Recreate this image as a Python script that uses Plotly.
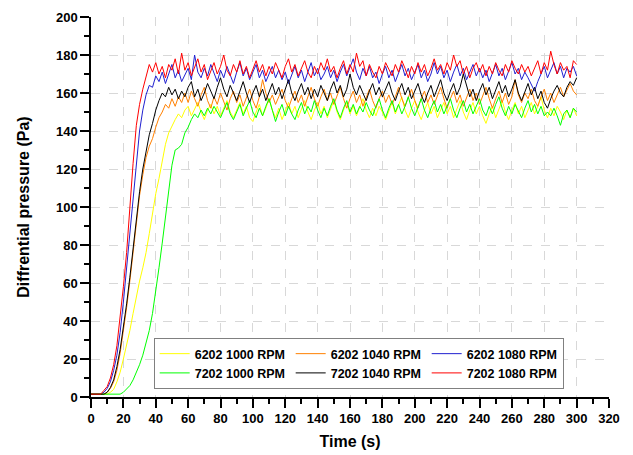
import plotly.graph_objects as go

# time axis (s), one reading every 2 s
time_s = list(range(0, 301, 2))

# differential pressure readings (Pa)
p6202_1000 = [
    1.5, 1.5, 1.5, 1.5, 1.5, 1.5, 2.5, 4, 8, 13, 20, 27, 35, 44, 53,
    61, 68, 76, 86, 97, 107, 115, 124, 133, 139, 143, 146, 149, 147, 151,
    153, 148, 152, 155, 150, 146, 151, 154, 149, 153, 148, 152, 156, 150, 147,
    151, 155, 149, 153, 147, 145, 150, 154, 148, 152, 157, 151, 147, 152, 146,
    150, 155, 149, 153, 147, 151, 156, 150, 146, 151, 155, 149, 153, 147, 152,
    156, 150, 146, 151, 155, 149, 153, 148, 152, 157, 151, 147, 152, 148, 153,
    150, 146, 151, 155, 149, 153, 158, 151, 147, 152, 156, 150, 146, 151, 155,
    149, 153, 147, 151, 155, 149, 153, 147, 151, 156, 150, 146, 151, 155, 149,
    153, 148, 144, 149, 153, 147, 151, 156, 150, 146, 151, 155, 149, 153, 147,
    151, 155, 149, 153, 158, 151, 147, 152, 148, 153, 150, 146, 151, 147, 152, 148,
]
p6202_1040 = [
    1.5, 1.5, 1.5, 1.5, 1.5, 2.5, 4.5, 8, 14, 23, 34, 47, 61, 76, 92,
    106, 117, 126, 132, 136, 142, 147, 150, 154, 152, 157, 153, 158, 155, 160,
    155, 161, 157, 153, 159, 163, 156, 152, 158, 154, 160, 156, 151, 157, 161,
    155, 159, 153, 157, 162, 156, 152, 158, 167, 160, 155, 159, 154, 158, 162,
    156, 152, 157, 161, 155, 159, 153, 158, 163, 157, 153, 158, 162, 156, 160,
    154, 158, 163, 157, 152, 157, 161, 155, 159, 153, 158, 162, 156, 152, 157,
    161, 155, 159, 154, 158, 163, 157, 153, 158, 162, 156, 152, 157, 161, 155,
    159, 154, 158, 163, 157, 152, 157, 161, 155, 159, 153, 158, 162, 156, 160,
    154, 158, 163, 157, 152, 157, 161, 155, 160, 154, 158, 167, 159, 155, 160,
    157, 162, 156, 153, 158, 162, 156, 160, 155, 159, 163, 158, 162, 165, 161, 159,
]
p6202_1080 = [
    1.5, 1.5, 1.5, 1.5, 2.5, 4.5, 8, 14, 22, 34, 50, 68, 88, 107, 124,
    140, 151, 159, 164, 163, 169, 166, 171, 165, 170, 175, 168, 172, 166, 170,
    173, 167, 180, 171, 168, 173, 169, 175, 170, 166, 172, 168, 174, 170, 165,
    171, 176, 169, 173, 167, 171, 175, 168, 172, 166, 170, 174, 168, 172, 167,
    171, 165, 170, 174, 168, 172, 166, 171, 176, 169, 173, 167, 170, 174, 168,
    172, 166, 171, 175, 169, 173, 178, 171, 167, 173, 169, 174, 168, 171, 165,
    170, 174, 168, 172, 166, 171, 175, 169, 173, 167, 171, 175, 168, 172, 166,
    170, 176, 170, 174, 168, 172, 166, 171, 175, 169, 173, 167, 171, 175, 169,
    173, 168, 172, 166, 171, 175, 169, 173, 167, 171, 176, 170, 173, 167, 171,
    168, 164, 161, 166, 170, 174, 168, 172, 176, 170, 174, 168, 173, 171, 174, 169,
]
p7202_1000 = [
    1.5, 1.5, 1.5, 1.5, 1.5, 1.5, 1.5, 1.5, 1.5, 1.5, 2.5, 4, 6, 9, 13,
    17, 22, 28, 35, 44, 55, 68, 81, 95, 109, 122, 130, 131, 133, 139,
    142, 146, 149, 147, 151, 148, 152, 149, 153, 150, 147, 151, 155, 149, 146,
    150, 154, 148, 152, 156, 150, 147, 152, 148, 153, 157, 151, 145, 150, 154,
    148, 153, 149, 146, 151, 155, 149, 153, 150, 156, 151, 147, 152, 148, 153,
    157, 151, 147, 152, 156, 150, 154, 149, 153, 150, 155, 151, 148, 153, 157,
    151, 147, 152, 156, 150, 154, 149, 153, 158, 152, 148, 153, 157, 151, 147,
    152, 156, 150, 154, 149, 153, 157, 151, 147, 152, 156, 150, 154, 149, 153,
    157, 151, 148, 153, 149, 154, 158, 152, 148, 153, 149, 154, 150, 147, 152,
    156, 150, 154, 149, 153, 148, 150, 148, 152, 148, 143, 149, 151, 147, 152, 150,
]
p7202_1040 = [
    1.5, 1.5, 1.5, 1.5, 1.5, 2.5, 5, 9, 16, 25, 36, 49, 63, 78, 94,
    108, 120, 130, 138, 144, 151, 156, 160, 158, 163, 159, 162, 157, 161, 158,
    163, 166, 158, 162, 156, 160, 165, 161, 157, 163, 168, 162, 158, 164, 160,
    156, 161, 166, 160, 155, 160, 164, 158, 162, 156, 161, 165, 159, 163, 157,
    162, 167, 160, 156, 161, 165, 159, 163, 157, 162, 158, 164, 160, 156, 162,
    166, 160, 164, 158, 162, 170, 163, 159, 164, 160, 156, 161, 165, 159, 163,
    158, 162, 166, 160, 156, 161, 165, 159, 163, 157, 161, 165, 159, 155, 160,
    164, 158, 162, 167, 160, 156, 161, 165, 159, 163, 170, 164, 158, 162, 156,
    161, 165, 159, 163, 157, 162, 166, 160, 164, 158, 162, 167, 160, 156, 161,
    165, 159, 163, 157, 161, 155, 152, 157, 161, 164, 160, 158, 163, 166, 164, 168,
]
p7202_1080 = [
    1.5, 1.5, 1.5, 1.5, 3.5, 5.5, 10, 17, 27, 41, 58, 76, 101, 123, 143,
    154, 162, 168, 175, 171, 176, 170, 174, 168, 175, 172, 178, 170, 181, 172,
    176, 169, 173, 178, 171, 175, 167, 172, 176, 170, 174, 180, 172, 169, 175,
    171, 177, 170, 174, 168, 173, 177, 171, 175, 169, 174, 170, 176, 172, 168,
    174, 178, 171, 175, 169, 173, 177, 171, 168, 174, 170, 176, 172, 178, 171,
    174, 168, 173, 177, 170, 175, 171, 181, 174, 177, 169, 175, 171, 168, 174,
    170, 176, 172, 169, 175, 171, 177, 173, 168, 174, 170, 176, 171, 175, 169,
    173, 178, 172, 175, 170, 176, 172, 180, 174, 177, 170, 174, 168, 173, 176,
    171, 175, 169, 174, 170, 176, 172, 169, 175, 171, 177, 173, 170, 175, 171,
    174, 169, 173, 177, 170, 176, 172, 182, 175, 170, 176, 172, 174, 168, 177, 175,
]

series = [
    ("6202 1000 RPM", p6202_1000, "#FFFF00"),
    ("6202 1040 RPM", p6202_1040, "#FF8000"),
    ("6202 1080 RPM", p6202_1080, "#2020D0"),
    ("7202 1000 RPM", p7202_1000, "#00FF00"),
    ("7202 1040 RPM", p7202_1040, "#000000"),
    ("7202 1080 RPM", p7202_1080, "#FF0000"),
]

FONT = "Liberation Sans, Arial, sans-serif"

fig = go.Figure()
for name, vals, col in series:
    fig.add_trace(go.Scatter(x=time_s, y=vals, name=name, mode="lines",
                             line=dict(color=col, width=1)))

# the page body adds 8 px on the top/left, so the figure is 8 px smaller
fig.update_layout(
    width=625, height=447,
    margin=dict(l=83, r=24, t=9, b=58),
    paper_bgcolor="white", plot_bgcolor="white",
    font=dict(family=FONT, size=13, color="black", weight="bold"),
    showlegend=True,
    legend=dict(
        orientation="h", x=0.121, y=0.021, xanchor="left", yanchor="bottom",
        bgcolor="white", bordercolor="#808080", borderwidth=1,
        font=dict(family=FONT, size=12.5, color="black", weight="bold"),
        entrywidth=91, entrywidthmode="pixels", tracegroupgap=0,
    ),
    xaxis=dict(
        range=[0, 320], dtick=20, tick0=0, automargin=False,
        ticks="outside", ticklen=9, tickwidth=1.5, tickcolor="black",
        showline=True, linecolor="black", linewidth=1.5,
        showgrid=True, gridcolor="#d8d8d8", griddash="dash", gridwidth=1,
        zeroline=False,
        minor=dict(dtick=10, ticks="outside", ticklen=5, tickwidth=1.5,
                   tickcolor="black", showgrid=False),
        tickfont=dict(family=FONT, size=13, weight="bold"),
        title=dict(text="Time (s)", standoff=10,
                   font=dict(family=FONT, size=16, weight="bold")),
    ),
    yaxis=dict(
        range=[0, 200], dtick=20, tick0=0, automargin=False,
        ticks="outside", ticklen=9, tickwidth=1.5, tickcolor="black",
        showline=True, linecolor="black", linewidth=1.5,
        showgrid=True, gridcolor="#d8d8d8", griddash="dash", gridwidth=1,
        zeroline=False,
        minor=dict(dtick=10, ticks="outside", ticklen=5, tickwidth=1.5,
                   tickcolor="black", showgrid=False),
        tickfont=dict(family=FONT, size=13, weight="bold"),
        title=dict(text="Diffrential pressure (Pa)", standoff=22,
                   font=dict(family=FONT, size=16, weight="bold")),
    ),
    # top and right frame with inward ticks
    xaxis2=dict(
        overlaying="x", side="top", range=[0, 320], dtick=10, tick0=0,
        ticks="inside", ticklen=7, tickwidth=1.5, tickcolor="black",
        showticklabels=False, showline=True, linecolor="black", linewidth=1.5,
        showgrid=False, zeroline=False, automargin=False,
    ),
    yaxis2=dict(
        overlaying="y", side="right", range=[0, 200], dtick=10, tick0=0,
        ticks="inside", ticklen=7, tickwidth=1.5, tickcolor="black",
        showticklabels=False, showline=True, linecolor="black", linewidth=1.5,
        showgrid=False, zeroline=False, automargin=False,
    ),
)

fig.write_html("out.html")
